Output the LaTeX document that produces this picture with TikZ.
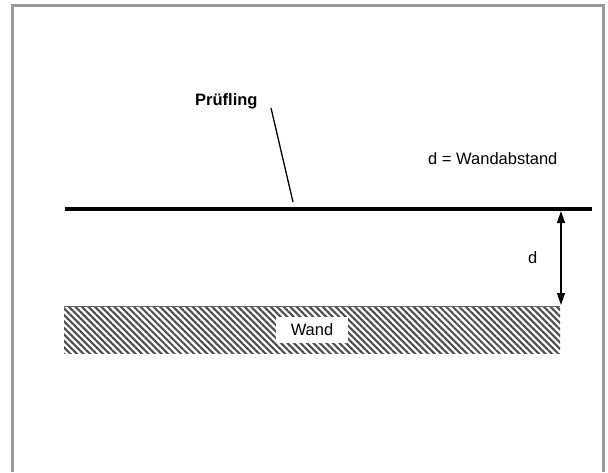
\documentclass[tikz,border=0pt]{standalone}
\usepackage{fontspec}
\setmainfont{Liberation Sans}
\usetikzlibrary{patterns.meta}
\usetikzlibrary{arrows.meta}

\begin{document}
\begin{tikzpicture}[x=1pt,y=-1pt]
\tikzstyle{every node}=[font=\fontsize{16.5}{20}\selectfont,inner sep=0pt]
\tikzstyle{frame}=[draw=black!40,line width=3pt]
\tikzstyle{probe}=[line width=4.5pt]
\tikzstyle{hatch}=[pattern={Lines[angle=-45,distance=4.6pt,line width=2.1pt]},pattern color=black!70]
\tikzstyle{dim}=[line width=1.3pt,{Triangle[width=8pt,length=12pt]}-{Triangle[width=8pt,length=12pt]}]
\useasboundingbox (0,0) rectangle (608,472);
\draw[frame] (12.5,472) |- (603.5,5.5) -- (603.5,472);
% Wand
\fill[hatch] (64,306) rectangle (560,353);
\draw[black!60,line width=0.8pt] (64,306) -- (560,306);
\node[fill=white,minimum width=72pt,minimum height=26pt] (wand) at (312,330) {Wand};
% Pruefling
\coordinate (left) at (65,209);
\coordinate (right) at (592,209);
\draw[probe] (left) -- (right);
\node[anchor=base west,font=\fontsize{16.5}{20}\selectfont\bfseries] (label) at (195,105) {Prüfling};
\coordinate (pstart) at (271,108);
\coordinate (pend) at (293,202);
\draw[line width=1.3pt] (pstart) -- (pend);
% Abstand
\coordinate (dtop) at (561,211);
\coordinate (dbot) at (561,305);
\draw[dim] (dtop) -- (dbot);
\node[anchor=base west] (d) at (528,263) {d};
\node[anchor=base west] (legend) at (428,164) {d = Wandabstand};
\end{tikzpicture}
\end{document}
